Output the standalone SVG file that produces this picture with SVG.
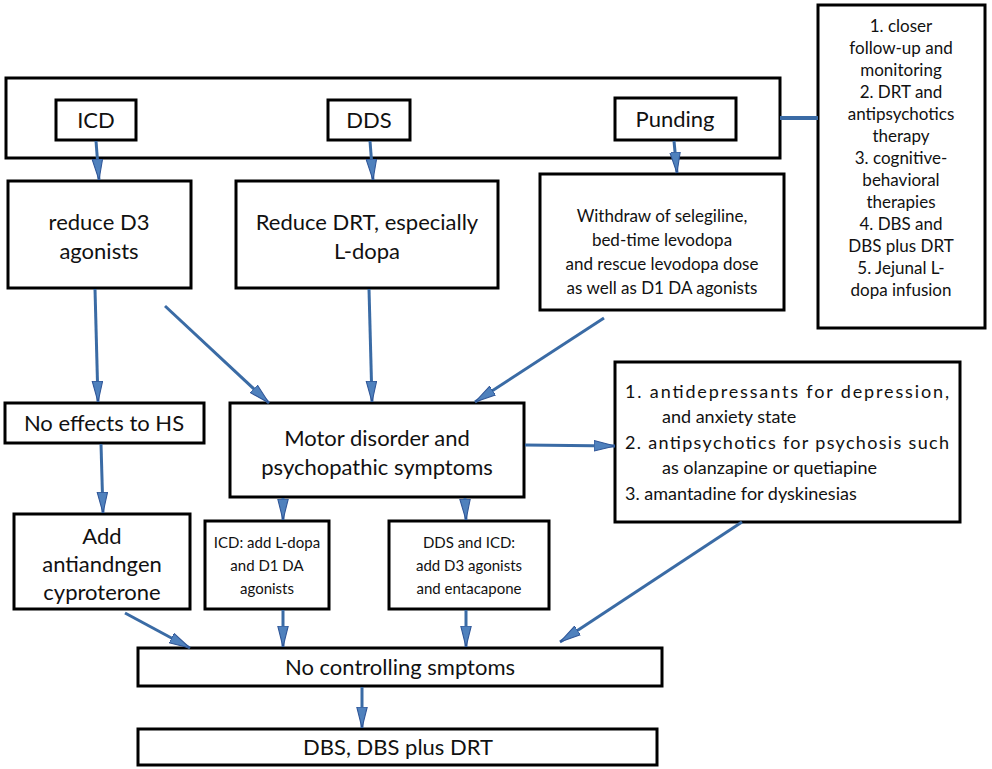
<svg xmlns="http://www.w3.org/2000/svg" width="992" height="769" viewBox="0 0 992 769">
<style>
.b{fill:#fff;stroke:#000;stroke-width:3}
text{font-family:Lato,"Open Sans",sans-serif;fill:#111;text-anchor:middle}
.t20{font-size:22px}.t16{font-size:17px}.t14{font-size:15px}
.l{font-size:18px;text-anchor:start}
.c{stroke:#3a6ba5;stroke-width:3;fill:none;marker-end:url(#ah)}
</style>
<defs>
<marker id="ah" viewBox="0 0 20 10" refX="20" refY="5" markerWidth="7" markerHeight="4" markerUnits="strokeWidth" orient="auto">
<path d="M0,0 L20,5 L0,10 Z" fill="#4f81bd" stroke="#2f5597" stroke-width="1"/>
</marker>
</defs>
<rect width="992" height="769" fill="#fff"/>
<g id="top"><rect class="b" x="6" y="78" width="774" height="80"/></g>
<g id="icd"><rect class="b" x="56" y="100" width="80" height="40"/><text class="t20" x="96" y="128">ICD</text></g>
<g id="dds"><rect class="b" x="328" y="100" width="82" height="40"/><text class="t20" x="369" y="128">DDS</text></g>
<g id="punding"><rect class="b" x="615" y="98" width="121" height="42"/><text class="t20" x="675" y="127">Punding</text></g>
<g id="right"><rect class="b" x="818" y="5" width="167" height="323"/>
<text class="t16" x="901" y="32">1. closer</text>
<text class="t16" x="901" y="54">follow-up and</text>
<text class="t16" x="901" y="76">monitoring</text>
<text class="t16" x="901" y="98">2. DRT and</text>
<text class="t16" x="901" y="120">antipsychotics</text>
<text class="t16" x="901" y="142">therapy</text>
<text class="t16" x="901" y="164">3. cognitive-</text>
<text class="t16" x="901" y="186">behavioral</text>
<text class="t16" x="901" y="208">therapies</text>
<text class="t16" x="901" y="230">4. DBS and</text>
<text class="t16" x="901" y="252">DBS plus DRT</text>
<text class="t16" x="901" y="274">5. Jejunal L-</text>
<text class="t16" x="901" y="296">dopa infusion</text></g>
<g id="reduceD3"><rect class="b" x="8" y="181" width="183" height="107"/><text class="t20" x="99" y="230">reduce D3</text><text class="t20" x="99" y="259">agonists</text></g>
<g id="reduceDRT"><rect class="b" x="236" y="181" width="262" height="107"/><text class="t20" x="367" y="230">Reduce DRT, especially</text><text class="t20" x="367" y="259">L-dopa</text></g>
<g id="withdraw"><rect class="b" x="540" y="174" width="244" height="136"/>
<text class="t16" x="662" y="222">Withdraw of selegiline,</text>
<text class="t16" x="662" y="246">bed-time levodopa</text>
<text class="t16" x="662" y="270">and rescue levodopa dose</text>
<text class="t16" x="662" y="294">as well as D1 DA agonists</text></g>
<g id="noeffects"><rect class="b" x="5" y="403" width="199" height="40"/><text class="t20" x="104" y="431">No effects to HS</text></g>
<g id="motor"><rect class="b" x="230" y="403" width="294" height="94"/><text class="t20" x="377" y="446">Motor disorder and</text><text class="t20" x="377" y="475">psychopathic symptoms</text></g>
<g id="list"><rect class="b" x="615" y="362" width="345" height="160"/>
<text class="l" x="625" y="398" textLength="324" lengthAdjust="spacing">1.   antidepressants  for  depression,</text>
<text class="l" x="662" y="423">and anxiety state</text>
<text class="l" x="625" y="449" textLength="324" lengthAdjust="spacing">2.  antipsychotics  for  psychosis  such</text>
<text class="l" x="662" y="474">as olanzapine or quetiapine</text>
<text class="l" x="625" y="500">3.   amantadine for dyskinesias</text></g>
<g id="add"><rect class="b" x="14" y="514" width="176" height="95"/>
<text class="t20" x="102" y="544">Add</text><text class="t20" x="102" y="572">antiandngen</text><text class="t20" x="102" y="600">cyproterone</text></g>
<g id="icdadd"><rect class="b" x="205" y="521" width="124" height="88"/>
<text class="t14" x="267" y="548">ICD: add L-dopa</text><text class="t14" x="267" y="571">and D1 DA</text><text class="t14" x="267" y="594">agonists</text></g>
<g id="ddsicd"><rect class="b" x="389" y="521" width="160" height="88"/>
<text class="t14" x="469" y="548">DDS and ICD:</text><text class="t14" x="469" y="571">add D3 agonists</text><text class="t14" x="469" y="594">and entacapone</text></g>
<g id="noctrl"><rect class="b" x="138" y="648" width="524" height="38"/><text class="t20" x="400" y="675">No controlling smptoms</text></g>
<g id="dbs"><rect class="b" x="138" y="729" width="519" height="36"/><text class="t20" x="398" y="755">DBS, DBS plus DRT</text></g>
<g id="connectors">
<line x1="780" y1="118" x2="818" y2="118" stroke="#3a6ba5" stroke-width="4"/>
<line class="c" x1="96" y1="141" x2="99" y2="180"/>
<line class="c" x1="370" y1="141" x2="373" y2="180"/>
<line class="c" x1="674" y1="141" x2="677" y2="173"/>
<line class="c" x1="95" y1="289" x2="98" y2="402"/>
<line class="c" x1="165" y1="306" x2="269" y2="403"/>
<line class="c" x1="369" y1="289" x2="372" y2="402"/>
<line class="c" x1="604" y1="318" x2="475" y2="402"/>
<line class="c" x1="525" y1="445" x2="615" y2="446"/>
<line class="c" x1="101" y1="444" x2="103" y2="513"/>
<line class="c" x1="283" y1="498" x2="283" y2="520"/>
<line class="c" x1="465" y1="498" x2="466" y2="520"/>
<line class="c" x1="125" y1="613" x2="190" y2="648"/>
<line class="c" x1="283" y1="610" x2="283" y2="647"/>
<line class="c" x1="466" y1="610" x2="466" y2="647"/>
<line class="c" x1="742" y1="522" x2="560" y2="642"/>
<line class="c" x1="362" y1="687" x2="362" y2="728" stroke-width="4"/>
</g>
</svg>
